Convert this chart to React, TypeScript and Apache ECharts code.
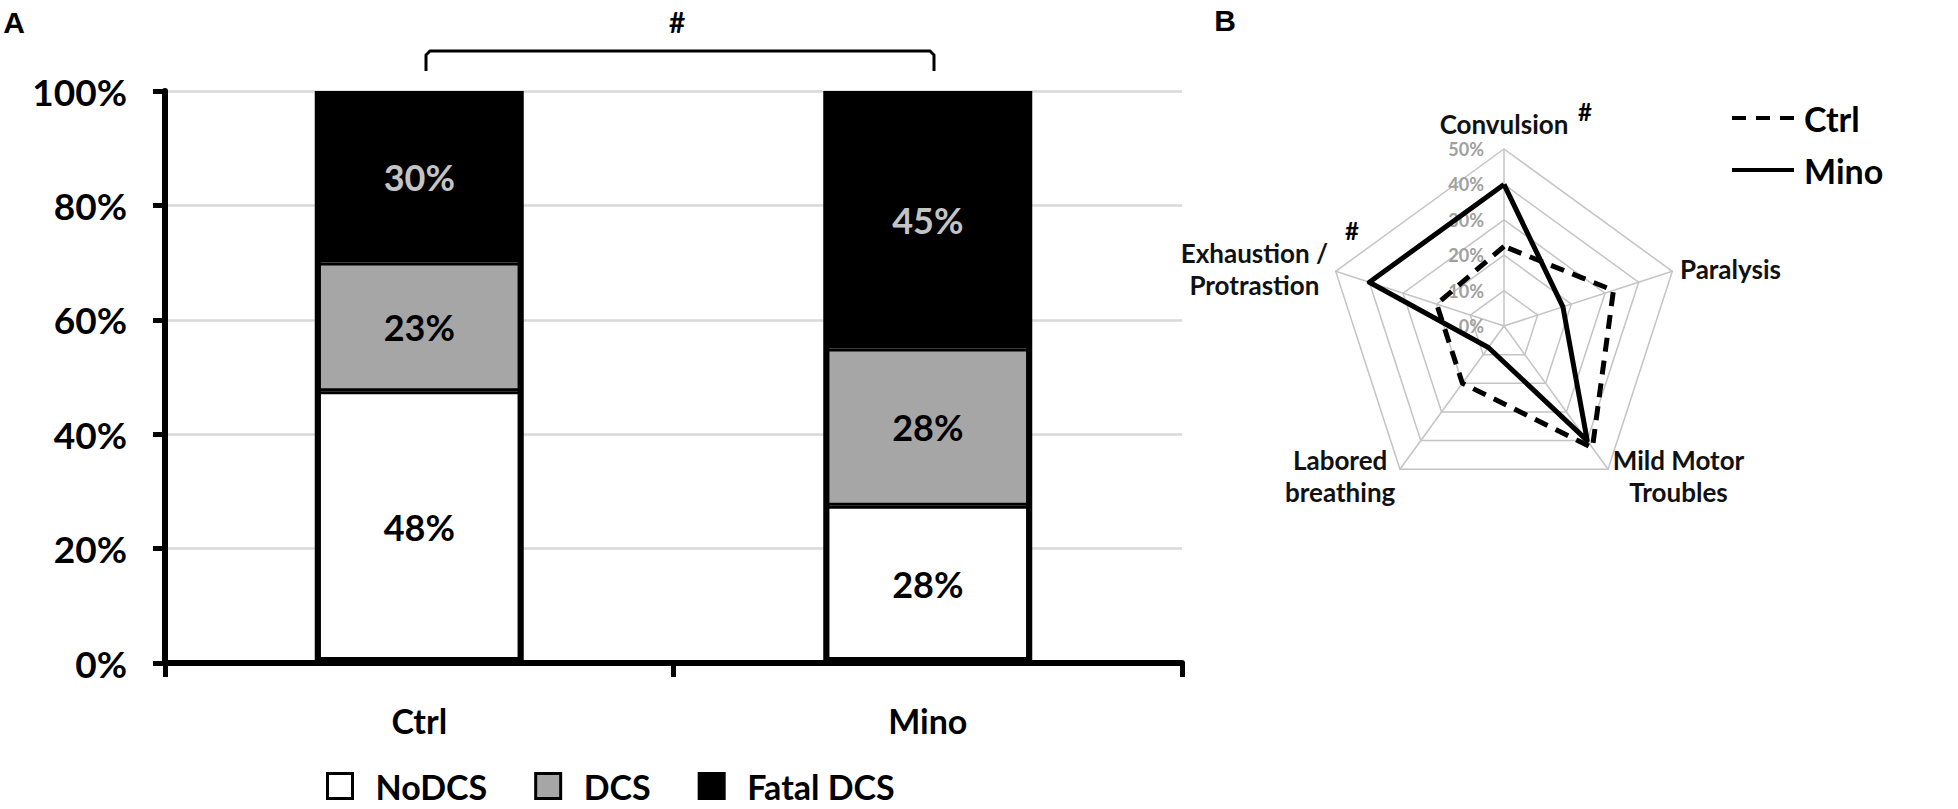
import React, { useEffect, useRef } from "react";
import * as echarts from "echarts";

// ---- Panel A data (stacked 100% bars) ----
const groups = ["Ctrl", "Mino"];
const noDCS = [47.5, 27.5];
const dcs = [22.5, 27.5];
const fatalDCS = [30, 45];
const yTicks = [0, 20, 40, 60, 80, 100];

// ---- Panel B data (radar of symptoms, %) ----
const symptoms = [
  "Convulsion",
  "Exhaustion /\nProtrastion",
  "Labored\nbreathing",
  "Mild Motor\nTroubles",
  "Paralysis",
];
const ctrlSymptoms = [22.5, 20, 20, 42.5, 32.5];
const minoSymptoms = [40, 40, 7.5, 40, 17.5];
const radarMax = 50;

const FONT = 'Lato, "Open Sans", "DejaVu Sans", sans-serif';
const ARIAL = '"Liberation Sans", Arial, sans-serif';

export default function App() {
  const ref = useRef<HTMLDivElement>(null);

  useEffect(() => {
    if (!ref.current) return;
    const chart = echarts.init(ref.current, null, { renderer: "svg" });

    const totals = groups.map((_, i) => noDCS[i] + dcs[i] + fatalDCS[i]);

    const barLabel = (color: string) => ({
      show: true,
      position: "inside",
      color,
      fontSize: 36,
      fontWeight: "bold",
      fontFamily: FONT,
      formatter: (p: any) => Math.round(p.value) + "%",
    });

    const nameStyle = {
      color: "#111",
      fontSize: 26,
      fontWeight: "bold",
      fontFamily: FONT,
      lineHeight: 32,
    };

    const option: any = {
      animation: false,
      backgroundColor: "#ffffff",
      textStyle: { fontFamily: FONT },
      grid: { left: 165, top: 91, width: 1017, height: 572 },
      xAxis: [
        {
          type: "category",
          data: groups,
          axisLine: { show: true, lineStyle: { color: "#000", width: 6 } },
          axisTick: { show: true, length: 14, lineStyle: { color: "#000", width: 5 } },
          axisLabel: {
            color: "#000",
            fontSize: 34,
            fontWeight: "bold",
            fontFamily: FONT,
            margin: 40,
          },
          z: 5,
        },
        { type: "category", data: groups, show: false, gridIndex: 0 },
      ],
      yAxis: {
        type: "value",
        min: yTicks[0],
        max: yTicks[yTicks.length - 1],
        interval: yTicks[1] - yTicks[0],
        axisLine: { show: true, lineStyle: { color: "#000", width: 6 } },
        axisTick: { show: true, length: 12, lineStyle: { color: "#000", width: 5 } },
        axisLabel: {
          color: "#000",
          fontSize: 37,
          fontWeight: "bold",
          fontFamily: FONT,
          margin: 38,
          formatter: "{value}%",
        },
        splitLine: { show: true, lineStyle: { color: "#d9d9d9", width: 2.5 } },
      },
      radar: {
        center: [1504, 326],
        radius: 177,
        startAngle: 90,
        shape: "polygon",
        splitNumber: 5,
        nameGap: 8,
        axisName: {
          ...nameStyle,
          formatter: (name: string) =>
            name
              .split("\n")
              .map((l) => "{c|" + l + "}")
              .join("\n"),
          rich: { c: { ...nameStyle, align: "center" } },
        },
        axisLine: { lineStyle: { color: "#c4c4c4", width: 1.5 } },
        splitLine: { lineStyle: { color: "#c4c4c4", width: 1.5 } },
        splitArea: { show: false },
        axisTick: { show: false },
        axisLabel: {
          show: false,
          color: "#a0a0a0",
          fontSize: 18,
          fontWeight: "bold",
          fontFamily: FONT,
          margin: 20,
          formatter: "{value}%",
        },
        indicator: symptoms.map((name, i) => ({
          name,
          min: 0,
          max: radarMax,
          ...(i === 0 ? { axisLabel: { show: true } } : {}),
        })),
      },
      legend: [
        {
          data: ["NoDCS", "DCS", "Fatal DCS"],
          left: 321,
          top: 764,
          orient: "horizontal",
          icon: "rect",
          itemWidth: 25,
          itemHeight: 25,
          itemGap: 47,
          itemStyle: { borderColor: "#000", borderWidth: 3 },
          textStyle: {
            color: "#000",
            fontSize: 34,
            fontWeight: "bold",
            fontFamily: FONT,
            lineHeight: 34,
            padding: [0, 0, 0, 18],
          },
          selectedMode: false,
        },
        {
          data: [
            { name: "Ctrl", icon: "path://M0,0h14v4h-14zM24,0h14v4h-14zM48,0h14v4h-14z" },
            { name: "Mino", icon: "path://M0,0h62v4h-62z" },
          ],
          left: 1727,
          top: 95,
          orient: "vertical",
          itemWidth: 62,
          itemHeight: 4,
          itemGap: 16,
          itemStyle: { color: "#000", borderWidth: 0 },
          textStyle: {
            color: "#000",
            fontSize: 34,
            fontWeight: "bold",
            fontFamily: FONT,
            lineHeight: 36,
            padding: [0, 0, 0, 5],
          },
          selectedMode: false,
        },
      ],
      series: [
        {
          name: "NoDCS",
          type: "bar",
          stack: "total",
          barWidth: 203,
          data: noDCS,
          itemStyle: { color: "#ffffff", borderColor: "#000", borderWidth: 3 },
          label: barLabel("#000"),
        },
        {
          name: "DCS",
          type: "bar",
          stack: "total",
          barWidth: 203,
          data: dcs,
          itemStyle: { color: "#a6a6a6", borderColor: "#000", borderWidth: 3 },
          label: barLabel("#000"),
        },
        {
          name: "Fatal DCS",
          type: "bar",
          stack: "total",
          barWidth: 203,
          data: fatalDCS,
          itemStyle: { color: "#000000", borderColor: "#000", borderWidth: 3 },
          label: barLabel("#c4c4c4"),
        },
        {
          name: "outline",
          type: "bar",
          xAxisIndex: 1,
          barWidth: 209,
          data: totals,
          silent: true,
          z: 3,
          itemStyle: { color: "rgba(0,0,0,0)", borderColor: "#000", borderWidth: 6 },
          label: { show: false },
          tooltip: { show: false },
        },
        {
          type: "radar",
          symbol: "none",
          data: [
            {
              name: "Ctrl",
              value: ctrlSymptoms,
              itemStyle: { color: "#000" },
              lineStyle: { color: "#000", width: 5, type: [14, 9] },
            },
            {
              name: "Mino",
              value: minoSymptoms,
              itemStyle: { color: "#000" },
              lineStyle: { color: "#000", width: 5, type: "solid" },
            },
          ],
        },
      ],
      graphic: [
        {
          type: "text",
          x: 14,
          y: 22,
          style: { text: "A", fontSize: 30, fontWeight: "bold", fontFamily: ARIAL, fill: "#000", align: "center", verticalAlign: "middle" },
        },
        {
          type: "text",
          x: 1225,
          y: 20,
          style: { text: "B", fontSize: 30, fontWeight: "bold", fontFamily: ARIAL, fill: "#000", align: "center", verticalAlign: "middle" },
        },
        {
          type: "polyline",
          shape: { points: [[426, 71], [426, 55], [430, 51], [930, 51], [934, 55], [934, 71]] },
          style: { stroke: "#000", lineWidth: 3, fill: null },
        },
        {
          type: "text",
          x: 677,
          y: 22,
          style: { text: "#", fontSize: 28, fontWeight: "bold", fontFamily: FONT, fill: "#000", align: "center", verticalAlign: "middle" },
        },
        {
          type: "text",
          x: 1585,
          y: 111,
          style: { text: "#", fontSize: 24, fontWeight: "bold", fontFamily: FONT, fill: "#000", align: "center", verticalAlign: "middle" },
        },
        {
          type: "text",
          x: 1352,
          y: 230,
          style: { text: "#", fontSize: 24, fontWeight: "bold", fontFamily: FONT, fill: "#000", align: "center", verticalAlign: "middle" },
        },
      ],
    };

    chart.setOption(option);
    return () => chart.dispose();
  }, []);

  return (
    <div
      ref={ref}
      style={{ position: "absolute", left: 0, top: 0, width: 1958, height: 809, background: "#fff" }}
    />
  );
}
